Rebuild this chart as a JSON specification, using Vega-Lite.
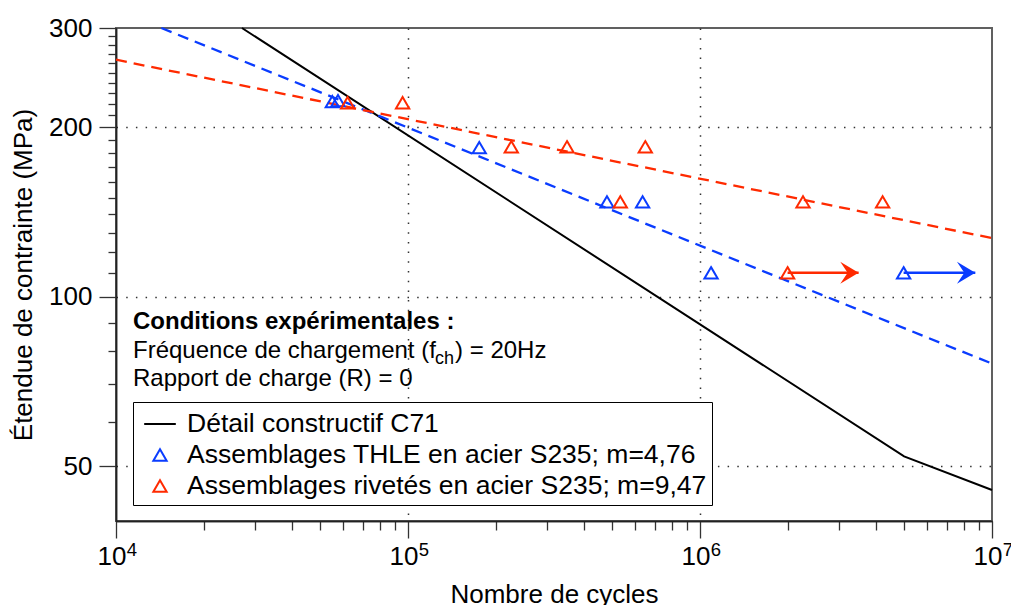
{
  "$schema": "https://vega.github.io/schema/vega-lite/v6.json",
  "width": 876,
  "height": 493,
  "autosize": {"type": "none"},
  "padding": {"left": 116, "top": 28, "right": 19, "bottom": 84},
  "background": "white",
  "config": {
    "font": "Liberation Sans",
    "view": {"stroke": "#606060", "strokeWidth": 2},
    "axis": {
      "domainColor": "#222222",
      "domainWidth": 1.5,
      "tickColor": "#333333",
      "tickWidth": 1.3,
      "labelFont": "Liberation Sans",
      "labelFontSize": 26,
      "labelColor": "black",
      "titleFont": "Liberation Sans",
      "titleFontSize": 26,
      "titleFontWeight": "normal",
      "titleColor": "black",
      "labelOverlap": false,
      "labelFlush": false,
      "gridColor": "#333333",
      "gridDash": [1.5, 8.2],
      "gridWidth": 1.5
    }
  },
  "datasets": {
    "c71": [
      {"N": 27000, "S": 300},
      {"N": 5000000, "S": 52.1},
      {"N": 10000000, "S": 45.4}
    ],
    "fitBlue": [
      {"N": 14300, "S": 300},
      {"N": 10000000, "S": 76.1}
    ],
    "fitRed": [
      {"N": 10000, "S": 263.5},
      {"N": 10000000, "S": 127.1}
    ],
    "pts": [
      {"N": 55060, "S": 222, "series": "Assemblages THLE en acier S235; m=4,76"},
      {"N": 57580, "S": 223, "series": "Assemblages THLE en acier S235; m=4,76"},
      {"N": 175400, "S": 184, "series": "Assemblages THLE en acier S235; m=4,76"},
      {"N": 480200, "S": 147.4, "series": "Assemblages THLE en acier S235; m=4,76"},
      {"N": 636000, "S": 147.4, "series": "Assemblages THLE en acier S235; m=4,76"},
      {"N": 1091000, "S": 110.3, "series": "Assemblages THLE en acier S235; m=4,76"},
      {"N": 4981000, "S": 110.3, "series": "Assemblages THLE en acier S235; m=4,76"},
      {"N": 62100, "S": 221, "series": "Assemblages rivetés en acier S235; m=9,47"},
      {"N": 95830, "S": 221, "series": "Assemblages rivetés en acier S235; m=9,47"},
      {"N": 225800, "S": 184.6, "series": "Assemblages rivetés en acier S235; m=9,47"},
      {"N": 350400, "S": 184.6, "series": "Assemblages rivetés en acier S235; m=9,47"},
      {"N": 649500, "S": 184.6, "series": "Assemblages rivetés en acier S235; m=9,47"},
      {"N": 533400, "S": 147.4, "series": "Assemblages rivetés en acier S235; m=9,47"},
      {"N": 2253000, "S": 147.4, "series": "Assemblages rivetés en acier S235; m=9,47"},
      {"N": 4221000, "S": 147.4, "series": "Assemblages rivetés en acier S235; m=9,47"},
      {"N": 1995000, "S": 110.3, "series": "Assemblages rivetés en acier S235; m=9,47"}
    ],
    "arrowBlue": [
      {"N": 4981000, "N2": 8767000, "S": 110.3}
    ],
    "arrowRed": [
      {"N": 1995000, "N2": 3493000, "S": 110.3}
    ],
    "notesBold": [
      {"N": 11435, "S": 87.7, "text": "Conditions expérimentales :"}
    ],
    "notes": [
      {"N": 11435, "S": 77.9, "text": "Fréquence de chargement (f"},
      {"N": 144900, "S": 77.9, "text": ") = 20Hz"},
      {"N": 11435, "S": 69.35, "text": "Rapport de charge (R) = 0"}
    ],
    "notesSub": [
      {"N": 123700, "S": 76.1, "text": "ch"}
    ]
  },
  "resolve": {"axis": {"x": "independent", "y": "independent"}},
  "layer": [
    {
      "data": {"name": "c71"},
      "mark": {"type": "line", "strokeWidth": 2, "color": "#000000"},
      "encoding": {
        "x": {
          "field": "N", "type": "quantitative",
          "scale": {"type": "log", "domain": [10000, 10000000], "nice": false},
          "axis": {
            "orient": "bottom",
            "values": [20000, 30000, 40000, 50000, 60000, 70000, 80000, 90000, 200000, 300000, 400000, 500000, 600000, 700000, 800000, 900000, 2000000, 3000000, 4000000, 5000000, 6000000, 7000000, 8000000, 9000000],
            "labels": false, "grid": false, "domain": true, "tickSize": 9, "title": null
          }
        },
        "y": {
          "field": "S", "type": "quantitative",
          "scale": {"type": "log", "domain": [40, 300], "nice": false},
          "axis": {
            "orient": "left",
            "values": [60, 70, 80, 90, 110, 120, 130, 140, 150, 160, 170, 180, 190, 210, 220, 230, 240, 250, 260, 270, 280, 290],
            "labels": false, "grid": false, "domain": true, "tickSize": 8, "title": null
          }
        }
      }
    },
    {
      "data": {"name": "fitBlue"},
      "mark": {"type": "line", "strokeWidth": 2.3, "strokeDash": [11, 7], "color": "#0a3cff"},
      "encoding": {
        "x": {
          "field": "N", "type": "quantitative",
          "axis": {
            "orient": "bottom",
            "values": [10000, 100000, 1000000, 10000000],
            "labelExpr": "'10'",
            "labelOffset": -4.5,
            "tickSize": 17, "labelPadding": 5, "grid": true,
            "gridOpacity": {"condition": {"test": "datum.value == 100000 || datum.value == 1000000", "value": 1}, "value": 0},
            "title": "Nombre de cycles", "titlePadding": 12
          }
        },
        "y": {
          "field": "S", "type": "quantitative",
          "axis": {
            "orient": "left",
            "values": [50, 100, 200, 300],
            "labelExpr": "format(datum.value, 'd')",
            "tickSize": 17, "labelPadding": 7, "grid": true,
            "gridOpacity": {"condition": {"test": "datum.value < 250", "value": 1}, "value": 0},
            "title": "Étendue de contrainte (MPa)", "titlePadding": 12
          }
        }
      }
    },
    {
      "data": {"name": "fitRed"},
      "mark": {"type": "line", "strokeWidth": 2.3, "strokeDash": [11, 7], "color": "#ff2a00"},
      "encoding": {
        "x": {
          "field": "N", "type": "quantitative",
          "axis": {
            "orient": "bottom",
            "values": [10000, 100000, 1000000, 10000000],
            "labelExpr": "datum.value == 10000 ? '4' : datum.value == 100000 ? '5' : datum.value == 1000000 ? '6' : '7'",
            "labelFontSize": 18.5,
            "labelOffset": 15.5,
            "labelBaseline": "alphabetic",
            "labelPadding": 34,
            "ticks": false, "tickSize": 0, "domain": false, "grid": false, "title": null
          }
        },
        "y": {"field": "S", "type": "quantitative", "axis": null}
      }
    },
    {
      "data": {"name": "arrowRed"},
      "mark": {"type": "rule", "strokeWidth": 2.5, "color": "#ff2a00"},
      "encoding": {
        "x": {"field": "N", "type": "quantitative", "axis": null},
        "x2": {"field": "N2"},
        "y": {"field": "S", "type": "quantitative", "axis": null}
      }
    },
    {
      "data": {"name": "arrowRed"},
      "mark": {"type": "point", "filled": true, "opacity": 1, "size": 484, "shape": "M0,0L-1.67,-1L-1,0L-1.67,1Z", "strokeWidth": 0, "color": "#ff2a00"},
      "encoding": {
        "x": {"field": "N2", "type": "quantitative", "axis": null},
        "y": {"field": "S", "type": "quantitative", "axis": null}
      }
    },
    {
      "data": {"name": "arrowBlue"},
      "mark": {"type": "rule", "strokeWidth": 2.5, "color": "#0a3cff"},
      "encoding": {
        "x": {"field": "N", "type": "quantitative", "axis": null},
        "x2": {"field": "N2"},
        "y": {"field": "S", "type": "quantitative", "axis": null}
      }
    },
    {
      "data": {"name": "arrowBlue"},
      "mark": {"type": "point", "filled": true, "opacity": 1, "size": 484, "shape": "M0,0L-1.67,-1L-1,0L-1.67,1Z", "strokeWidth": 0, "color": "#0a3cff"},
      "encoding": {
        "x": {"field": "N2", "type": "quantitative", "axis": null},
        "y": {"field": "S", "type": "quantitative", "axis": null}
      }
    },
    {
      "data": {"name": "pts"},
      "mark": {"type": "point", "filled": false, "opacity": 1, "size": 1000, "strokeWidth": 2},
      "encoding": {
        "x": {"field": "N", "type": "quantitative", "axis": null},
        "y": {"field": "S", "type": "quantitative", "axis": null},
        "color": {
          "field": "series", "type": "nominal",
          "scale": {
            "domain": ["Détail constructif C71", "Assemblages THLE en acier S235; m=4,76", "Assemblages rivetés en acier S235; m=9,47"],
            "range": ["#000000", "#0a3cff", "#ff2a00"]
          },
          "legend": {
            "title": null, "orient": "none", "legendX": 17, "legendY": 374,
            "strokeColor": "black", "fillColor": "white", "padding": 5,
            "labelFont": "Liberation Sans", "labelFontSize": 26.5, "labelColor": "black",
            "labelLimit": 1000, "symbolSize": 1000, "symbolStrokeWidth": 2,
            "symbolOffset": 5, "labelOffset": 10, "rowPadding": 0
          }
        },
        "shape": {
          "field": "series", "type": "nominal",
          "scale": {
            "domain": ["Détail constructif C71", "Assemblages THLE en acier S235; m=4,76", "Assemblages rivetés en acier S235; m=9,47"],
            "range": ["stroke", "M0,-0.36L0.42,0.36L-0.42,0.36Z", "M0,-0.36L0.42,0.36L-0.42,0.36Z"]
          },
          "legend": {
            "title": null, "orient": "none", "legendX": 17, "legendY": 374,
            "strokeColor": "black", "fillColor": "white", "padding": 5,
            "labelFont": "Liberation Sans", "labelFontSize": 26.5, "labelColor": "black",
            "labelLimit": 1000, "symbolSize": 1000, "symbolStrokeWidth": 2,
            "symbolOffset": 5, "labelOffset": 10, "rowPadding": 0
          }
        }
      }
    },
    {
      "data": {"name": "notesBold"},
      "mark": {"type": "text", "align": "left", "baseline": "alphabetic", "fontSize": 24, "fontWeight": "bold", "font": "Liberation Sans", "color": "black"},
      "encoding": {
        "x": {"field": "N", "type": "quantitative", "axis": null},
        "y": {"field": "S", "type": "quantitative", "axis": null},
        "text": {"field": "text"}
      }
    },
    {
      "data": {"name": "notes"},
      "mark": {"type": "text", "align": "left", "baseline": "alphabetic", "fontSize": 24, "font": "Liberation Sans", "color": "black"},
      "encoding": {
        "x": {"field": "N", "type": "quantitative", "axis": null},
        "y": {"field": "S", "type": "quantitative", "axis": null},
        "text": {"field": "text"}
      }
    },
    {
      "data": {"name": "notesSub"},
      "mark": {"type": "text", "align": "left", "baseline": "alphabetic", "fontSize": 18, "font": "Liberation Sans", "color": "black"},
      "encoding": {
        "x": {"field": "N", "type": "quantitative", "axis": null},
        "y": {"field": "S", "type": "quantitative", "axis": null},
        "text": {"field": "text"}
      }
    }
  ]
}
